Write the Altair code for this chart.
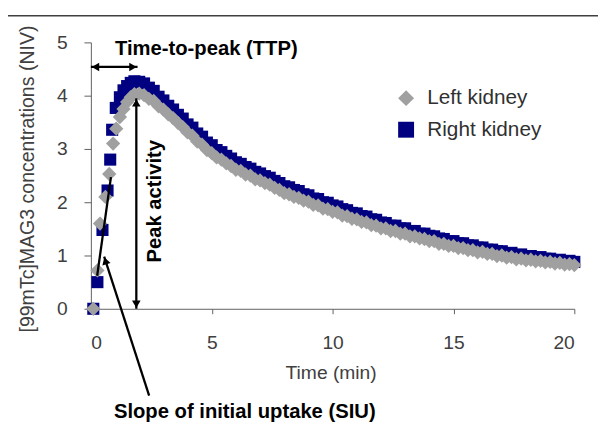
import altair as alt
import pandas as pd

# ---------------- data ----------------
grid_t = [2.0, 2.2, 2.4, 2.6, 2.8, 3.0, 3.2, 3.4, 3.6, 3.8,
          4.0, 4.2, 4.4, 4.6, 4.8, 5.0, 5.2, 5.4, 5.6, 5.8,
          6.0, 6.2, 6.4, 6.6, 6.8, 7.0, 7.2, 7.4, 7.6, 7.8,
          8.0, 8.2, 8.4, 8.6, 8.8, 9.0, 9.2, 9.4, 9.6, 9.8,
          10.0, 10.2, 10.4, 10.6, 10.8, 11.0, 11.2, 11.4, 11.6, 11.8,
          12.0, 12.2, 12.4, 12.6, 12.8, 13.0, 13.2, 13.4, 13.6, 13.8,
          14.0, 14.2, 14.4, 14.6, 14.8, 15.0, 15.2, 15.4, 15.6, 15.8,
          16.0, 16.2, 16.4, 16.6, 16.8, 17.0, 17.2, 17.4, 17.6, 17.8,
          18.0, 18.2, 18.4, 18.6, 18.8, 19.0, 19.2, 19.4, 19.6, 19.8,
          20.0]

left_early_t = [0.1, 0.27, 0.38, 0.6, 0.76, 0.92, 1.05, 1.2, 1.35, 1.5, 1.65, 1.8]
left_early_v = [0.0, 0.72, 1.6, 2.1, 2.53, 3.1, 3.38, 3.6, 3.75, 3.88, 3.97, 4.03]
left_v = [4.04, 4.01, 3.94, 3.90, 3.80, 3.74, 3.65, 3.58, 3.49, 3.41,
          3.31, 3.25, 3.14, 3.08, 2.98, 2.92, 2.84, 2.80, 2.73, 2.68,
          2.61, 2.59, 2.52, 2.50, 2.43, 2.41, 2.36, 2.33, 2.27, 2.23,
          2.17, 2.15, 2.10, 2.08, 2.03, 2.01, 1.95, 1.94, 1.88, 1.87,
          1.82, 1.81, 1.75, 1.74, 1.69, 1.68, 1.63, 1.62, 1.57, 1.56,
          1.51, 1.51, 1.46, 1.46, 1.41, 1.41, 1.36, 1.36, 1.32, 1.31,
          1.27, 1.27, 1.22, 1.22, 1.18, 1.18, 1.14, 1.14, 1.10, 1.10,
          1.06, 1.07, 1.03, 1.03, 0.99, 1.00, 0.96, 0.97, 0.93, 0.94,
          0.91, 0.92, 0.89, 0.90, 0.87, 0.88, 0.85, 0.86, 0.83, 0.84,
          0.82]

right_early_t = [0.1, 0.27, 0.48, 0.69, 0.8, 0.88, 1.03, 1.2, 1.35, 1.5, 1.65, 1.8]
right_early_v = [0.0, 0.5, 1.48, 2.22, 2.8, 3.36, 3.77, 3.97, 4.1, 4.18, 4.24, 4.27]
right_v = [4.26, 4.23, 4.15, 4.09, 3.98, 3.91, 3.81, 3.74, 3.64, 3.57,
           3.46, 3.40, 3.29, 3.23, 3.12, 3.07, 2.98, 2.94, 2.87, 2.82,
           2.75, 2.72, 2.66, 2.63, 2.57, 2.54, 2.49, 2.46, 2.40, 2.36,
           2.30, 2.28, 2.23, 2.21, 2.15, 2.13, 2.07, 2.06, 2.00, 1.99,
           1.94, 1.92, 1.87, 1.85, 1.80, 1.79, 1.74, 1.73, 1.68, 1.67,
           1.62, 1.61, 1.56, 1.56, 1.51, 1.51, 1.46, 1.46, 1.41, 1.41,
           1.37, 1.36, 1.32, 1.31, 1.27, 1.27, 1.23, 1.23, 1.19, 1.19,
           1.15, 1.15, 1.11, 1.11, 1.08, 1.08, 1.04, 1.05, 1.01, 1.02,
           0.98, 0.99, 0.96, 0.97, 0.94, 0.94, 0.91, 0.92, 0.89, 0.90,
           0.88]

series_names = ["Left kidney", "Right kidney"]
series_colors = ["#a0a0a0", "#000080"]
series_shapes = ["diamond", "square"]
x_ticks = [0, 5, 10, 15, 20]
y_ticks = [0, 1, 2, 3, 4, 5]

# annotation geometry (data units)
ttp_arrow = {"t1": 0.0, "t2": 1.93, "v": 4.54}
peak_arrow = {"t": 1.88, "v1": 3.95, "v2": 0.0}
slope_line = {"t1": 0.83, "v1": 2.47, "t2": 0.26, "v2": 0.62}
siu_pointer = {"t1": 2.41, "v1": -1.63, "t2": 0.55, "v2": 0.98}

# ---------------- chart ----------------
right_df = pd.DataFrame({"t": right_early_t + grid_t, "v": right_early_v + right_v,
                         "kidney": "Right kidney"})
left_df = pd.DataFrame({"t": left_early_t + grid_t, "v": left_early_v + left_v,
                        "kidney": "Left kidney"})

FONT = "Liberation Sans"
TXT = "#404040"
W, H = 490, 270

xscale = alt.Scale(domain=[0, 20], nice=False, zero=False)
yscale = alt.Scale(domain=[0, 5], nice=False)

xaxis = alt.Axis(values=x_ticks, grid=False, domainColor="#606060", tickColor="#606060",
                 tickSize=5, labelFontSize=19.5, labelColor=TXT, labelPadding=20,
                 title="Time (min)", titleFontSize=19.5, titleFontWeight="normal",
                 titleColor=TXT, titleX=243, titleY=65, titleBaseline="middle",
                 titleAlign="center")
yaxis = alt.Axis(values=y_ticks, grid=False, domainColor="#606060", tickColor="#606060",
                 tickSize=7, labelFontSize=19.5, labelColor=TXT, labelPadding=17,
                 title="[99mTc]MAG3 concentrations (NIV)", titleFontSize=19.8,
                 titleFontWeight="normal", titleColor=TXT, titleX=-64, titleY=138,
                 titleAngle=270, titleBaseline="middle", titleAlign="center")

legend = alt.Legend(title=None, orient="none", legendX=309, legendY=46,
                    labelFontSize=21, labelColor="#303030", symbolSize=260,
                    symbolStrokeWidth=0, rowPadding=10, labelOffset=11, padding=0)

color = alt.Color("kidney:N", scale=alt.Scale(domain=series_names, range=series_colors),
                  legend=legend)
shape = alt.Shape("kidney:N", scale=alt.Scale(domain=series_names, range=series_shapes),
                  legend=legend)

right_pts = alt.Chart(right_df).mark_point(filled=True, opacity=1, size=150, strokeWidth=0).encode(
    x=alt.X("t:Q", scale=xscale, axis=xaxis),
    y=alt.Y("v:Q", scale=yscale, axis=yaxis),
    color=color, shape=shape)
left_pts = alt.Chart(left_df).mark_point(filled=True, opacity=1, size=210, strokeWidth=0).encode(
    x=alt.X("t:Q", scale=xscale),
    y=alt.Y("v:Q", scale=yscale),
    color=color, shape=shape)

rules_df = pd.DataFrame({
    "t1": [ttp_arrow["t1"], peak_arrow["t"], slope_line["t1"], siu_pointer["t1"]],
    "t2": [ttp_arrow["t2"], peak_arrow["t"], slope_line["t2"], siu_pointer["t2"]],
    "v1": [ttp_arrow["v"], peak_arrow["v1"], slope_line["v1"], siu_pointer["v1"]],
    "v2": [ttp_arrow["v"], peak_arrow["v2"], slope_line["v2"], siu_pointer["v2"]],
})
rules = alt.Chart(rules_df).mark_rule(color="black", strokeWidth=2.3).encode(
    x=alt.X("t1:Q", scale=xscale), x2="t2:Q",
    y=alt.Y("v1:Q", scale=yscale), y2="v2:Q")

heads = []
head_specs = [
    ("triangle-left", 0, ttp_arrow["t1"] + 0.19, ttp_arrow["v"]),
    ("triangle-right", 0, ttp_arrow["t2"] - 0.19, ttp_arrow["v"]),
    ("triangle-up", 0, peak_arrow["t"], peak_arrow["v1"] - 0.085),
    ("triangle-down", 0, peak_arrow["t"], peak_arrow["v2"] + 0.085),
    ("triangle-up", 343, siu_pointer["t2"] + 0.05, siu_pointer["v2"] - 0.08),
]
for shp, ang, tt, vv in head_specs:
    heads.append(alt.Chart(pd.DataFrame({"t": [tt], "v": [vv]})).mark_point(
        shape=shp, angle=ang, filled=True, color="black", opacity=1, size=75, strokeWidth=0
    ).encode(x=alt.X("t:Q", scale=xscale), y=alt.Y("v:Q", scale=yscale)))

one = pd.DataFrame({"a": [0]})
def label(txt, px, py, size=20.5, angle=0):
    return alt.Chart(one).mark_text(text=txt, font=FONT, fontSize=size, fontWeight="bold",
                                    color="black", align="center", baseline="middle",
                                    angle=angle).encode(x=alt.value(px), y=alt.value(py))

texts = [
    label("Time-to-peak (TTP)", 117, 7),
    label("Peak activity", 64.7, 161, angle=270),
    label("Slope of initial uptake (SIU)", 156, 375),
]

# rounded frame: only its top edge falls inside the picture
frame = alt.Chart(one).mark_rect(fillOpacity=0, stroke="#404040", strokeWidth=1.5,
                                 cornerRadius=14).encode(
    x=alt.value(-110), x2=alt.value(640), y=alt.value(-27), y2=alt.value(520))

chart = alt.layer(frame, right_pts, left_pts, rules, *heads, *texts).properties(
    width=W, height=H,
    autosize=alt.AutoSizeParams(type="none"),
    padding={"left": 84, "top": 32, "right": 24, "bottom": 120},
).configure(font=FONT).configure_view(stroke=None)

chart.save("out.html", embed_options={"renderer": "svg", "actions": False})
